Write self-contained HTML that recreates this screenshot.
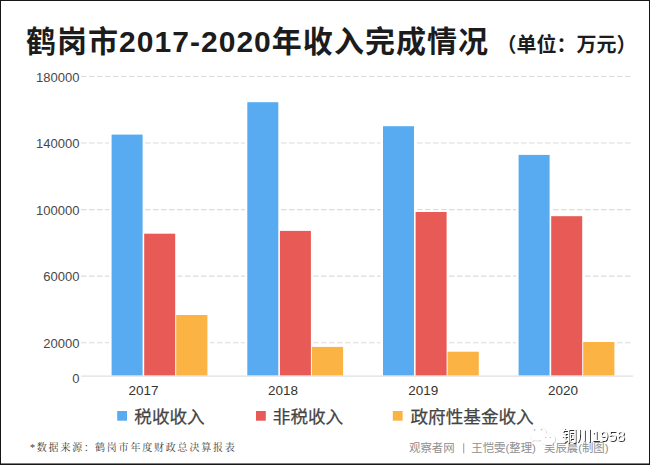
<!DOCTYPE html>
<html lang="zh-CN">
<head>
<meta charset="utf-8">
<title>鹤岗市2017-2020年收入完成情况</title>
<style>
html,body{margin:0;padding:0;background:#fff;}
body{width:650px;height:465px;overflow:hidden;font-family:"Liberation Sans",sans-serif;}
.chart{position:relative;width:650px;height:465px;background:#fff;box-sizing:border-box;}
.chart svg{position:absolute;left:0;top:0;display:block;}
.sr{position:absolute;left:0;top:0;width:1px;height:1px;overflow:hidden;opacity:0;color:transparent;font-size:1px;line-height:1px;}
.sr h1,.sr p{margin:0;font-size:1px;font-weight:normal;}
.frame{position:absolute;left:0;top:0;width:650px;height:465px;box-sizing:border-box;border-style:solid;border-color:#161616;border-width:1px 1px 1px 1px;pointer-events:none;}
</style>
</head>
<body>
<div class="chart">
<svg width="650" height="465" viewBox="0 0 650 465" role="img" aria-label="鹤岗市2017-2020年收入完成情况（单位：万元）">
<defs>
<filter id="ws" x="-10%" y="-20%" width="120%" height="150%"><feDropShadow dx="0.9" dy="0.9" stdDeviation="0.4" flood-color="#000" flood-opacity="0.9"/></filter>
<filter id="wi" x="-20%" y="-20%" width="140%" height="150%"><feDropShadow dx="0.6" dy="0.6" stdDeviation="0.4" flood-color="#000" flood-opacity="0.3"/></filter>
</defs>
<line x1="81.0" y1="76.5" x2="632.5" y2="76.5" stroke="#dcdcdc" stroke-width="1.1" stroke-dasharray="5.5 2.5"/>
<line x1="81.0" y1="143.0" x2="632.5" y2="143.0" stroke="#dcdcdc" stroke-width="1.1" stroke-dasharray="5.5 2.5"/>
<line x1="81.0" y1="209.6" x2="632.5" y2="209.6" stroke="#dcdcdc" stroke-width="1.1" stroke-dasharray="5.5 2.5"/>
<line x1="81.0" y1="276.1" x2="632.5" y2="276.1" stroke="#dcdcdc" stroke-width="1.1" stroke-dasharray="5.5 2.5"/>
<line x1="81.0" y1="342.7" x2="632.5" y2="342.7" stroke="#dcdcdc" stroke-width="1.1" stroke-dasharray="5.5 2.5"/>
<rect x="109.1" y="133.1" width="36.0" height="242.5" fill="#fff"/>
<rect x="141.7" y="232.2" width="36.0" height="143.4" fill="#fff"/>
<rect x="173.7" y="313.5" width="36.2" height="62.1" fill="#fff"/>
<rect x="244.8" y="100.7" width="36.0" height="274.9" fill="#fff"/>
<rect x="277.4" y="229.4" width="36.0" height="146.2" fill="#fff"/>
<rect x="309.4" y="345.4" width="36.2" height="30.2" fill="#fff"/>
<rect x="380.5" y="124.7" width="36.0" height="250.9" fill="#fff"/>
<rect x="413.1" y="210.5" width="36.0" height="165.1" fill="#fff"/>
<rect x="445.1" y="350.2" width="36.2" height="25.4" fill="#fff"/>
<rect x="516.1" y="153.4" width="36.0" height="222.2" fill="#fff"/>
<rect x="548.7" y="214.7" width="36.0" height="160.9" fill="#fff"/>
<rect x="580.7" y="340.5" width="36.2" height="35.1" fill="#fff"/>
<rect x="111.6" y="134.6" width="31.0" height="241.0" fill="#59abf1"/>
<rect x="144.2" y="233.7" width="31.0" height="141.9" fill="#e75a55"/>
<rect x="176.2" y="315.0" width="31.2" height="60.6" fill="#fbb343"/>
<rect x="247.3" y="102.2" width="31.0" height="273.4" fill="#59abf1"/>
<rect x="279.9" y="230.9" width="31.0" height="144.7" fill="#e75a55"/>
<rect x="311.9" y="346.9" width="31.2" height="28.7" fill="#fbb343"/>
<rect x="383.0" y="126.2" width="31.0" height="249.4" fill="#59abf1"/>
<rect x="415.6" y="212.0" width="31.0" height="163.6" fill="#e75a55"/>
<rect x="447.6" y="351.7" width="31.2" height="23.9" fill="#fbb343"/>
<rect x="518.6" y="154.9" width="31.0" height="220.7" fill="#59abf1"/>
<rect x="551.2" y="216.2" width="31.0" height="159.4" fill="#e75a55"/>
<rect x="583.2" y="342.0" width="31.2" height="33.6" fill="#fbb343"/>
<line x1="81.0" y1="376.1" x2="633.0" y2="376.1" stroke="#e0e0e0" stroke-width="1.1"/>
<g font-family="'Liberation Sans', sans-serif" font-size="13" fill="#484848" text-anchor="end">
<text x="79.5" y="81.7">180000</text>
<text x="79.5" y="148.2">140000</text>
<text x="79.5" y="214.8">100000</text>
<text x="79.5" y="281.3">60000</text>
<text x="79.5" y="347.9">20000</text>
<text x="79.5" y="383.2">0</text>
</g>
<g font-family="'Liberation Sans', sans-serif" font-size="13.5" fill="#333" text-anchor="middle">
<text x="143.5" y="395">2017</text>
<text x="283.1" y="395">2018</text>
<text x="423.2" y="395">2019</text>
<text x="563" y="395">2020</text>
</g>
<rect x="117.2" y="411" width="9.8" height="9.7" fill="#59abf1"/>
<rect x="256.0" y="411" width="9.8" height="9.7" fill="#e75a55"/>
<rect x="392.8" y="411" width="9.8" height="9.7" fill="#fbb343"/>
<g font-family="'Liberation Sans', 'Noto Sans CJK SC', sans-serif" font-size="17.6" fill="#444" stroke="#444" stroke-width="0.25">
<text x="134.3" y="423">税收收入</text>
<text x="272.8" y="423">非税收入</text>
<text x="410.5" y="423">政府性基金收入</text>
</g>
<text x="26" y="51.5" font-family="'Liberation Sans', 'Noto Sans CJK SC', sans-serif" font-size="30" font-weight="bold" fill="#1c1c1c" textLength="462" lengthAdjust="spacing">鹤岗市2017-2020年收入完成情况</text>
<text x="496.5" y="52" font-family="'Liberation Sans', 'Noto Sans CJK SC', sans-serif" font-size="20" font-weight="bold" fill="#1c1c1c">（单位：万元）</text>
<g font-family="'Liberation Serif', 'Noto Serif CJK SC', serif" font-size="10" fill="#3a3a3a" letter-spacing="1.8">
<text x="30" y="450.5">*数据来源：</text>
<text x="95" y="450.5">鹤岗市年度财政总决算报表</text>
</g>
<g font-family="'Liberation Sans', 'Noto Sans CJK SC', sans-serif" font-size="11.4" fill="#8e8e8e">
<text x="409" y="451.6">观察者网</text>
<text x="471.3" y="451.6">王恺雯(整理)</text>
<text x="544" y="451.6">吴辰晨(制图)</text>
</g>
<rect x="463.3" y="443.3" width="0.9" height="10" fill="#8e8e8e"/>
<g filter="url(#wi)"><path d="M537.6 426.6c-4.7 0-8.5 3.1-8.5 7 0 2.2 1.2 4.1 3.1 5.4l-0.8 2.4 2.9-1.5c1 0.3 2.1 0.5 3.3 0.5 4.7 0 8.5-3.100 8.5-6.900s-3.800-6.900-8.500-6.900z" fill="#fff"/><path d="M548 433.400c-3.900 0-7 2.600-7 5.800s3.100 5.800 7 5.800c0.900 0 1.800-0.100 2.600-0.400l2.400 1.300-0.600-2c1.600-1.100 2.600-2.800 2.600-4.700 0-3.200-3.100-5.800-7-5.800z" fill="#fff"/></g><g fill="#9a9a9a" opacity="0.55"><circle cx="534.6" cy="430.0" r="0.9"/><circle cx="541.6" cy="429.6" r="0.9"/><circle cx="545.7" cy="437.6" r="0.75"/><circle cx="550.3" cy="437.6" r="0.75"/></g>
<g filter="url(#ws)"><text x="561.5" y="441" font-family="'Liberation Sans', 'Noto Sans CJK SC', sans-serif" font-size="15" fill="#fff">铜川1958</text></g>
<rect x="0" y="463.45" width="650" height="1.55" fill="#161616"/>
</svg>
<div class="frame"></div>
<div class="sr">
<h1>鹤岗市2017-2020年收入完成情况（单位：万元）</h1>
<p>180000 140000 100000 60000 20000 0</p>
<p>2017 2018 2019 2020</p>
<p>税收收入 非税收入 政府性基金收入</p>
<p>*数据来源：鹤岗市年度财政总决算报表</p>
<p>观察者网 | 王恺雯(整理) 吴辰晨(制图)</p>
<p>铜川1958</p>
</div>
</div>
</body>
</html>
